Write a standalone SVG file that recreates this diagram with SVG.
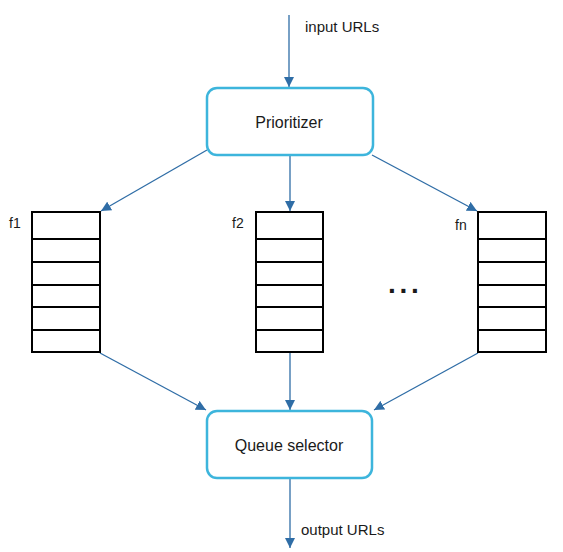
<svg xmlns="http://www.w3.org/2000/svg" width="563" height="552" viewBox="0 0 563 552">
<style>
.box{fill:#fff;stroke:#3db5dc;stroke-width:2.5}
.q{fill:#fff;stroke:#000;stroke-width:2}
.ql{stroke:#000;stroke-width:2}
.c{stroke:#2f6da6;stroke-width:1.3;fill:none;marker-end:url(#ah)}
.t{font-family:"Liberation Sans",Arial,sans-serif;fill:#1a1a1a}
</style>
<defs>
<marker id="ah" markerWidth="11" markerHeight="10" refX="10" refY="5" orient="auto" markerUnits="userSpaceOnUse">
<path d="M0,0 L10,5 L0,10 Z" fill="#2f6da6"/>
</marker>
</defs>
<rect width="563" height="552" fill="#fff"/>
<g id="connectors">
<line class="c" x1="289" y1="15" x2="289" y2="87"/>
<line class="c" x1="207" y1="150" x2="101" y2="211"/>
<line class="c" x1="290" y1="155" x2="290" y2="211"/>
<line class="c" x1="372" y1="155" x2="477" y2="211"/>
<line class="c" x1="100" y1="353" x2="206" y2="410"/>
<line class="c" x1="290" y1="353" x2="290" y2="410"/>
<line class="c" x1="478" y1="353" x2="374" y2="410"/>
<line class="c" x1="290" y1="478" x2="290" y2="548"/>
<text class="t" x="305" y="32" font-size="15">input URLs</text>
<text class="t" x="301" y="535" font-size="15">output URLs</text>
</g>
<g id="prioritizer">
<rect class="box" x="207" y="88" width="166" height="67" rx="10"/>
<text class="t" x="289" y="128" font-size="16" text-anchor="middle">Prioritizer</text>
</g>
<g id="queue-f1">
<rect class="q" x="32" y="212" width="68" height="140"/>
<path class="ql" d="M32,239H100M32,262H100M32,285H100M32,307H100M32,330H100"/>
<text class="t" x="9" y="228" font-size="14">f1</text>
</g>
<g id="queue-f2">
<rect class="q" x="256" y="212" width="67" height="140"/>
<path class="ql" d="M256,239H323M256,262H323M256,285H323M256,307H323M256,330H323"/>
<text class="t" x="232" y="228" font-size="14">f2</text>
</g>
<g id="queue-fn">
<rect class="q" x="478" y="212" width="68" height="140"/>
<path class="ql" d="M478,239H546M478,262H546M478,285H546M478,307H546M478,330H546"/>
<text class="t" x="455" y="230" font-size="14">fn</text>
</g>
<g id="ellipsis">
<text class="t" x="388" y="293" font-size="28" font-weight="bold" letter-spacing="3.7" fill="#000">...</text>
</g>
<g id="queue-selector">
<rect class="box" x="207" y="411" width="165" height="67" rx="10"/>
<text class="t" x="289" y="451" font-size="16" text-anchor="middle">Queue selector</text>
</g>
</svg>
